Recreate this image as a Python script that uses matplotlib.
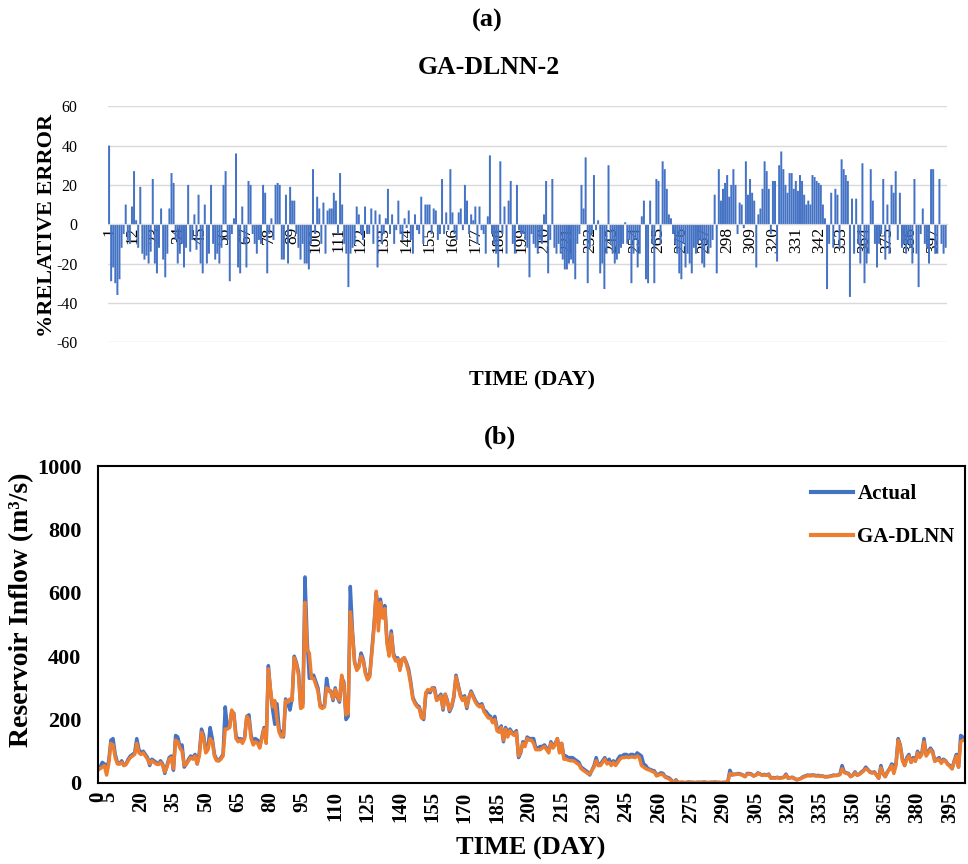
import numpy as np
import matplotlib
matplotlib.use("Agg")
import matplotlib.pyplot as plt

SERIF = ["Liberation Serif", "DejaVu Serif"]
plt.rcParams["font.family"] = SERIF

BLUE = "#4472C4"
ORANGE = "#ED7D31"
GRID = "#D9D9D9"

# ---- (a) percentage relative error per day (GA-DLNN-2) ----
relative_error = [
    40, -29, -22, -30, -36, -28, -12, -5, 10, -8,
    -10, 9, 27, 2, -12, 19, -15, -18, -16, -20,
    -14, 23, -20, -25, -12, 8, -18, -27, -15, 8,
    26, 21, -8, -20, -15, -10, -22, -12, 20, -14,
    -8, 5, -13, 15, -20, -25, 10, -20, -15, 20,
    -10, -18, -15, -20, -12, 20, 27, -8, -29, -5,
    3, 36, -22, -25, 9, -10, -22, 22, 20, -5,
    -10, -15, -8, -10, 20, 16, -25, -5, 3, -8,
    20, 21, 20, -18, -18, 15, -20, 19, 12, 12,
    -5, -12, -18, -10, -20, -20, -23, -10, 28, -5,
    14, 8, -10, 11, -15, 7, 8, 8, 16, 12,
    -5, 26, 10, -10, -15, -32, -15, -12, -10, 9,
    5, -5, -8, 9, -5, -5, 8, -10, 7, -22,
    5, -10, -5, 3, 18, -5, 5, -10, -3, 12,
    -5, -8, 3, -2, 7, -8, -15, 5, -3, -5,
    14, -10, 10, 10, 10, -5, 8, 7, -8, -5,
    23, -5, 6, -3, 28, 6, -5, -8, 6, 8,
    -3, 20, 12, -5, 5, 2, 9, -10, 9, -3,
    -5, -15, 4, 35, -5, -10, -15, -22, 32, -5,
    9, -15, 12, 22, -10, -15, 20, -3, -5, -5,
    -8, -12, -27, -5, -10, -12, -15, -8, -10, 5,
    22, -25, -8, 23, -12, -15, -10, -15, -18, -23,
    -23, -20, -18, -20, -28, -10, -5, 20, 8, 34,
    -30, -12, -5, 25, -3, 2, -25, -20, -33, -15,
    30, -10, -15, -20, -18, -15, -12, -10, 1, -10,
    -8, -30, -15, -8, -22, -15, 4, 12, -28, -30,
    12, -10, -30, 23, 22, -10, 32, 28, 18, 5,
    3, -5, -10, -15, -25, -28, -10, -22, -15, -20,
    -25, -12, -15, -10, -8, -20, -22, -10, -15, -12,
    -8, 15, -25, 28, 12, 18, 21, 25, 14, 20,
    28, 20, -5, 11, 10, -2, 32, 15, 23, 16,
    12, -22, 5, 8, 18, 32, 27, 18, -5, 22,
    22, -19, 30, 37, 28, 20, 16, 26, 26, 18,
    22, 17, 25, 22, 15, 10, 12, 10, 25, 24,
    22, 21, 20, 10, 3, -33, -10, 16, -12, 18,
    15, -12, 33, 28, 25, 22, -37, 13, -15, 13,
    -10, -20, 31, -30, -20, -15, 28, 12, -10, -22,
    -10, -5, 23, -18, 10, -15, 20, 16, 27, -8,
    16, -12, -10, -15, -10, -12, -20, 23, -15, -32,
    -5, 8, -10, -12, -20, 28, 28, -15, -15, 23,
    -10, -15, -12,
]
error_days = list(range(1, len(relative_error) + 1))
error_tick_days = list(range(1, len(relative_error) + 1, 11))
error_yticks = [-60, -40, -20, 0, 20, 40, 60]

# ---- (b) reservoir inflow, observed and GA-DLNN forecast (m3/s) ----
actual_inflow = [
    40, 50, 65, 60, 45, 70, 135, 140, 90, 65,
    60, 70, 55, 60, 75, 85, 90, 95, 140, 105,
    95, 100, 90, 80, 55, 75, 70, 65, 60, 70,
    60, 30, 55, 80, 85, 40, 150, 145, 115, 120,
    50, 60, 75, 85, 80, 90, 60, 95, 170, 150,
    100, 110, 175, 140, 90, 75, 70, 80, 90, 240,
    175, 175, 225, 220, 150, 135, 140, 130, 145, 210,
    215, 150, 130, 140, 135, 115, 145, 175, 130, 370,
    290, 230, 185, 250, 170, 160, 145, 265, 250, 230,
    265, 400, 380, 350, 240, 250, 650, 450, 330, 340,
    340, 320, 300, 245, 240, 245, 330, 290, 290, 260,
    300, 270, 255, 330, 320, 200, 210, 620, 480, 380,
    360, 370, 410, 390, 350, 330, 340, 420, 500, 600,
    550, 580, 530, 560, 450, 410, 480, 410, 390, 395,
    360, 390, 395, 380, 360, 320, 270, 255, 245, 240,
    210, 200, 280, 290, 285, 300, 300, 265, 270, 280,
    230, 280, 260, 225, 240, 270, 340, 310, 280, 265,
    275, 235, 270, 290, 275, 260, 250, 245, 250, 230,
    225, 215, 210, 195, 210, 175, 165, 180, 130, 175,
    150, 170, 160, 155, 165, 80, 95, 130, 120, 145,
    140, 140, 140, 110, 110, 115, 115, 120, 110, 100,
    130, 115, 125, 140, 100, 125, 85, 85, 80, 80,
    80, 75, 70, 65, 50, 45, 40, 35, 25, 40,
    55, 80, 55, 60, 70, 80, 65, 75, 60, 70,
    60, 75, 85, 85, 90, 90, 85, 90, 90, 85,
    95, 90, 85, 60, 55, 45, 43, 40, 38, 25,
    28, 32, 30, 20, 18, 15, 8, 2, 10, 1,
    2, 2, 1, 2, 3, 2, 2, 1, 2, 2,
    2, 3, 2, 1, 2, 2, 3, 2, 2, 1,
    2, 2, 3, 40, 25, 28, 28, 30, 28, 25,
    20, 30, 30, 28, 22, 25, 32, 28, 25, 27,
    25, 28, 15, 17, 16, 18, 15, 17, 18, 28,
    15, 17, 18, 14, 10, 12, 15, 20, 22, 25,
    24, 25, 25, 23, 24, 22, 22, 20, 20, 21,
    22, 25, 24, 25, 28, 55, 35, 32, 30, 20,
    25, 35, 25, 28, 35, 40, 50, 42, 35, 33,
    35, 25, 15, 55, 30, 20, 35, 45, 60, 55,
    60, 140, 120, 75, 55, 80, 90, 65, 80, 70,
    100, 85, 95, 140, 90, 100, 110, 100, 70, 75,
    80, 65, 75, 70, 60, 55, 45, 70, 90, 50,
    150, 145, 140,
]
predicted_inflow = [
    45, 45, 50, 55, 25, 60, 125, 120, 80, 60,
    60, 65, 55, 58, 70, 80, 85, 90, 125, 95,
    90, 95, 85, 75, 60, 70, 65, 60, 58, 65,
    55, 35, 50, 75, 80, 45, 135, 130, 110, 100,
    55, 60, 70, 80, 75, 85, 60, 85, 160, 140,
    95, 105, 140, 130, 85, 70, 70, 75, 85, 170,
    170, 175, 230, 215, 140, 130, 135, 125, 140, 210,
    200, 140, 120, 130, 125, 110, 140, 170, 125, 360,
    295, 240, 260, 200, 160, 145, 150, 260, 255, 265,
    260, 395, 375, 340, 235, 240, 570, 420, 410, 330,
    330, 310, 290, 240, 235, 240, 300, 295, 285, 265,
    295, 275, 260, 340, 310, 215, 220, 540, 470, 380,
    355, 365, 400, 385, 345, 325, 335, 410, 490, 605,
    480, 570, 520, 550, 440, 400, 470, 400, 385, 390,
    355, 390, 395, 375, 350, 310, 265, 250, 240, 235,
    205, 205, 285, 295, 290, 300, 295, 260, 265, 275,
    235, 280, 255, 230, 245, 275, 335, 305, 275, 260,
    270, 240, 270, 285, 270, 255, 245, 240, 245, 225,
    215, 205, 205, 190, 200, 165, 160, 175, 135, 170,
    145, 165, 155, 150, 160, 85, 100, 125, 115, 140,
    135, 135, 125, 105, 105, 105, 110, 115, 105, 95,
    125, 110, 120, 140, 95, 125, 75, 75, 72, 70,
    70, 68, 62, 58, 45, 40, 35, 30, 28, 40,
    50, 70, 55, 55, 65, 75, 60, 65, 55, 65,
    55, 65, 75, 80, 80, 82, 80, 82, 82, 80,
    85, 80, 55, 50, 45, 42, 40, 36, 34, 22,
    25, 28, 26, 18, 15, 12, 6, 2, 8, 1,
    1, 2, 1, 1, 2, 1, 1, 1, 2, 1,
    1, 2, 1, 1, 2, 1, 2, 1, 1, 1,
    1, 2, 2, 30, 28, 26, 27, 28, 26, 24,
    20, 28, 28, 26, 22, 24, 30, 27, 24, 25,
    24, 26, 15, 16, 15, 17, 15, 16, 17, 25,
    15, 16, 17, 13, 10, 12, 14, 18, 20, 23,
    22, 23, 23, 22, 22, 21, 21, 19, 19, 20,
    21, 23, 23, 24, 26, 45, 33, 30, 28, 20,
    24, 32, 24, 27, 32, 38, 45, 40, 33, 31,
    33, 24, 15, 48, 28, 20, 33, 42, 55, 30,
    55, 135, 115, 70, 55, 75, 85, 65, 75, 68,
    95, 80, 90, 130, 85, 95, 105, 95, 68, 72,
    75, 62, 72, 68, 58, 52, 45, 65, 85, 50,
    130, 135, 135,
]
inflow_days = list(range(len(actual_inflow)))
inflow_xticks = [0] + list(range(5, 400, 15))
inflow_yticks = [0, 200, 400, 600, 800, 1000]

fig = plt.figure(figsize=(9.68, 8.64), dpi=100)

# ---------------- panel (a) ----------------
ax1 = fig.add_axes([0.1116, 0.604, 0.8664, 0.273])
bars = ax1.bar(error_days, relative_error, width=0.95, color=BLUE, lw=0, zorder=2)
for b in bars:
    b.set_snap(False)
ax1.set_xlim(0.5, len(relative_error) + 0.5)
ax1.set_ylim(-60, 60)
ax1.set_yticks(error_yticks)
ax1.set_yticklabels([str(v) for v in error_yticks], fontsize=11.5)
ax1.yaxis.grid(True, color=GRID, lw=1.0, zorder=0)
ax1.set_axisbelow(True)
for side in ("top", "right", "left"):
    ax1.spines[side].set_visible(False)
ax1.spines["bottom"].set_position(("data", 0))
ax1.spines["bottom"].set_color(GRID)
ax1.set_xticks(error_tick_days)
ax1.set_xticklabels([str(d) for d in error_tick_days], rotation=90, fontsize=12.5)
ax1.tick_params(axis="both", length=0)
ax1.tick_params(axis="y", pad=22)
ax1.tick_params(axis="x", pad=2)

fig.text(487 / 968, 1 - 20 / 864, "(a)", ha="center", va="center",
         fontsize=19, fontweight="bold")
fig.text(489 / 968, 1 - 68 / 864, "GA-DLNN-2", ha="center", va="center",
         fontsize=18.5, fontweight="bold")
fig.text(47 / 968, 1 - 225 / 864, "%RELATIVE ERROR", ha="center", va="center",
         rotation=90, fontsize=16, fontweight="bold")
fig.text(532 / 968, 1 - 380 / 864, "TIME (DAY)", ha="center", va="center",
         fontsize=16, fontweight="bold")

# ---------------- panel (b) ----------------
ax2 = fig.add_axes([0.1012, 0.0938, 0.8957, 0.3668])
ax2.plot(inflow_days, actual_inflow, color=BLUE, lw=2.5, label="Actual",
         solid_joinstyle="round")
ax2.plot(inflow_days, predicted_inflow, color=ORANGE, lw=2.5, label="GA-DLNN",
         solid_joinstyle="round")
ax2.set_xlim(0, len(actual_inflow) - 1)
ax2.set_ylim(0, 1000)
ax2.set_yticks(inflow_yticks)
ax2.set_yticklabels([str(v) for v in inflow_yticks], fontsize=16,
                    fontweight="bold")
ax2.set_xticks(inflow_xticks)
ax2.set_xticklabels([str(v) for v in inflow_xticks], rotation=90, fontsize=15,
                    fontweight="bold")
ax2.tick_params(axis="both", length=0)
ax2.tick_params(axis="y", pad=12)
ax2.tick_params(axis="x", pad=6)
for sp in ax2.spines.values():
    sp.set_linewidth(1.5)
    sp.set_color("black")

fig.text(22 / 968, 1 - 610 / 864, "Reservoir Inflow (m³/s)", ha="center",
         va="center", rotation=90, fontsize=20, fontweight="bold")
fig.text(531 / 968, 1 - 848 / 864, "TIME (DAY)", ha="center", va="center",
         fontsize=19, fontweight="bold")
fig.text(500 / 968, 1 - 437 / 864, "(b)", ha="center", va="center",
         fontsize=19, fontweight="bold")

leg = ax2.legend(loc="upper right", bbox_to_anchor=(1.012, 1.008), frameon=False,
                 prop={"family": SERIF, "weight": "bold", "size": 15},
                 handlelength=2.0, handletextpad=0.2, labelspacing=1.1,
                 borderaxespad=0.6)
for h in leg.get_lines():
    h.set_linewidth(3)

fig.savefig("out.png", dpi=100)
